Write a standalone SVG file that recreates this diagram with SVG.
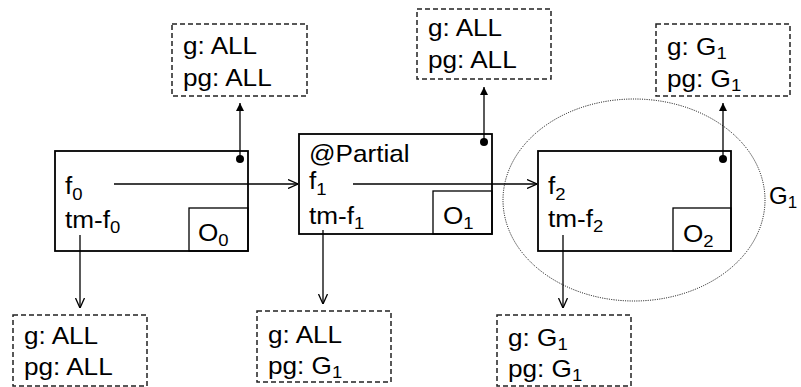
<svg xmlns="http://www.w3.org/2000/svg" width="801" height="387" viewBox="0 0 801 387">
<style>
text{font-family:"Liberation Sans",Arial,sans-serif;font-size:24px;fill:#000}
.sub{font-size:17px}
.box{fill:#fff;stroke:#000;stroke-width:1.8}
.obox{fill:none;stroke:#000;stroke-width:1.3}
.dash{fill:#fff;stroke:#222;stroke-width:1.5;stroke-dasharray:5 3}
.con{fill:none;stroke:#000;stroke-width:1.3}
</style>
<defs>
<marker id="open" viewBox="0 0 10 10" refX="10" refY="5" markerWidth="10" markerHeight="10" markerUnits="userSpaceOnUse" orient="auto">
<path d="M0,0.5 L10,5 L0,9.5" fill="none" stroke="#000" stroke-width="1.3"/>
</marker>
<marker id="fill" viewBox="0 0 8 8" refX="8" refY="4" markerWidth="8" markerHeight="8" markerUnits="userSpaceOnUse" orient="auto">
<path d="M0,0 L8,4 L0,8 z" fill="#000"/>
</marker>
</defs>

<ellipse id="G1-region" cx="634" cy="200" rx="131" ry="101" fill="none" stroke="#000" stroke-width="1" stroke-dasharray="1 1.3"/>
<text x="769" y="204">G<tspan class="sub" dy="4">1</tspan></text>

<g id="obj0">
<rect class="box" x="55" y="151" width="193" height="100"/>
<rect class="obox" x="189" y="208" width="59" height="43"/>
<text transform="translate(65,194) scale(1.09,1)">f<tspan class="sub" dy="6">0</tspan></text>
<text transform="translate(65,228) scale(1.09,1)">tm-f<tspan class="sub" dy="5">0</tspan></text>
<text transform="translate(198,241) scale(1.09,1)">O<tspan class="sub" dy="5">0</tspan></text>
</g>

<g id="obj1">
<rect class="box" x="299" y="134" width="193" height="100"/>
<rect class="obox" x="433" y="191" width="59" height="43"/>
<text transform="translate(309,162) scale(1.09,1)">@Partial</text>
<text transform="translate(309,189) scale(1.09,1)">f<tspan class="sub" dy="6">1</tspan></text>
<text transform="translate(309,224) scale(1.09,1)">tm-f<tspan class="sub" dy="5">1</tspan></text>
<text transform="translate(443,224) scale(1.09,1)">O<tspan class="sub" dy="5">1</tspan></text>
</g>

<g id="obj2">
<rect class="box" x="538" y="151" width="193" height="100"/>
<rect class="obox" x="673" y="208" width="58" height="43"/>
<text transform="translate(548,194) scale(1.09,1)">f<tspan class="sub" dy="6">2</tspan></text>
<text transform="translate(548,227) scale(1.09,1)">tm-f<tspan class="sub" dy="5">2</tspan></text>
<text transform="translate(683,242) scale(1.09,1)">O<tspan class="sub" dy="5">2</tspan></text>
</g>

<g id="label-top0">
<rect class="dash" x="172" y="24" width="135" height="72"/>
<text transform="translate(183,54) scale(1.09,1)">g: ALL</text>
<text transform="translate(183,86) scale(1.09,1)">pg: ALL</text>
</g>

<g id="label-top1">
<rect class="dash" x="417" y="9" width="134" height="70"/>
<text transform="translate(428,36) scale(1.09,1)">g: ALL</text>
<text transform="translate(428,68) scale(1.09,1)">pg: ALL</text>
</g>

<g id="label-top2">
<rect class="dash" x="656" y="24" width="134" height="72"/>
<text transform="translate(667,55) scale(1.09,1)">g: G<tspan class="sub" dy="4">1</tspan></text>
<text transform="translate(667,87) scale(1.09,1)">pg: G<tspan class="sub" dy="4">1</tspan></text>
</g>

<g id="label-bot0">
<rect class="dash" x="13" y="315" width="134" height="71"/>
<text transform="translate(24,344) scale(1.09,1)">g: ALL</text>
<text transform="translate(24,375) scale(1.09,1)">pg: ALL</text>
</g>

<g id="label-bot1">
<rect class="dash" x="257" y="311" width="134" height="71"/>
<text transform="translate(268,343) scale(1.09,1)">g: ALL</text>
<text transform="translate(268,374) scale(1.09,1)">pg: G<tspan class="sub" dy="4">1</tspan></text>
</g>

<g id="label-bot2">
<rect class="dash" x="497" y="315" width="134" height="71"/>
<text transform="translate(508,346) scale(1.09,1)">g: G<tspan class="sub" dy="4">1</tspan></text>
<text transform="translate(508,377) scale(1.09,1)">pg: G<tspan class="sub" dy="4">1</tspan></text>
</g>

<g id="connectors">
<line class="con" x1="114" y1="184" x2="298" y2="184" marker-end="url(#open)"/>
<line class="con" x1="353" y1="184" x2="537" y2="184" marker-end="url(#open)"/>
<line class="con" x1="80" y1="235" x2="80" y2="308" marker-end="url(#open)"/>
<line class="con" x1="323" y1="230" x2="323" y2="304" marker-end="url(#open)"/>
<line class="con" x1="563" y1="235" x2="563" y2="308" marker-end="url(#open)"/>
<line class="con" x1="240" y1="159" x2="240" y2="103" marker-end="url(#fill)"/>
<line class="con" x1="484" y1="142" x2="484" y2="87" marker-end="url(#fill)"/>
<line class="con" x1="723" y1="159" x2="723" y2="103" marker-end="url(#fill)"/>
<circle cx="240" cy="159" r="4"/>
<circle cx="484" cy="142" r="4"/>
<circle cx="723" cy="159" r="4"/>
</g>
</svg>
